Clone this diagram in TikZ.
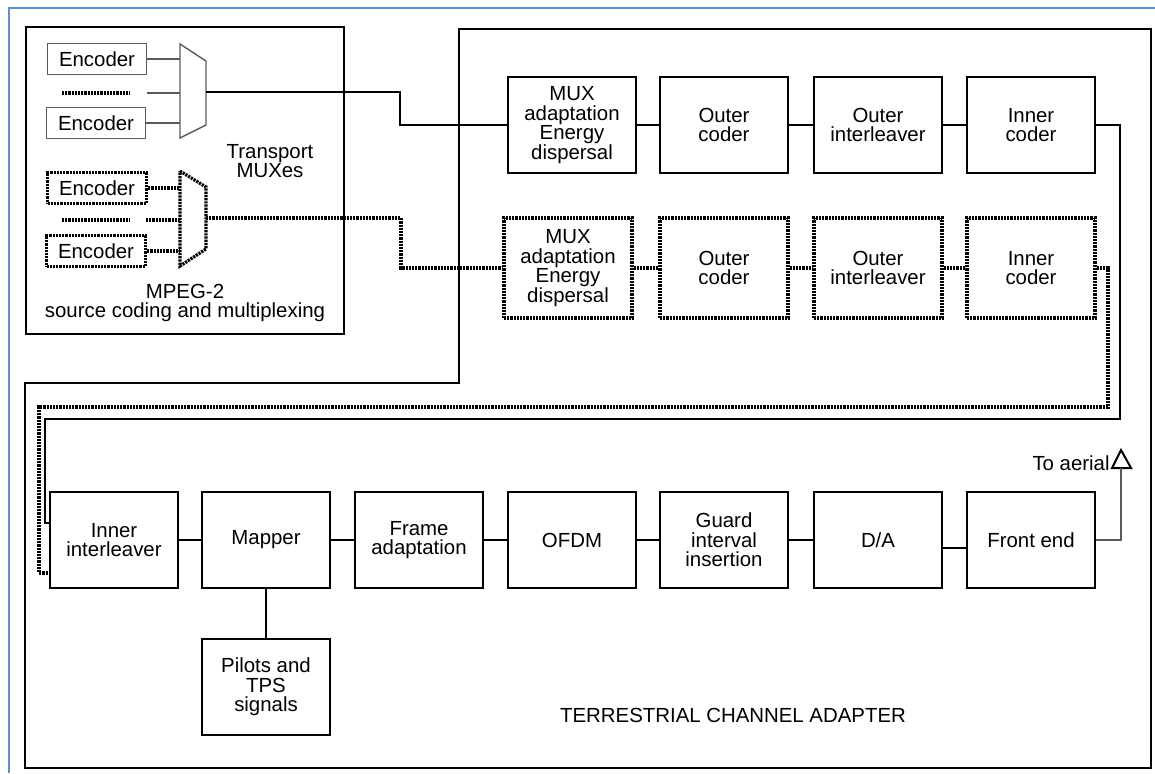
\documentclass[tikz,border=0pt]{standalone}
\usepackage{fontspec}
\setmainfont{Liberation Sans}
\usetikzlibrary{math}
\definecolor{myblue}{RGB}{95,145,210}
\definecolor{mygray}{RGB}{90,90,90}

\tikzset{
  txt/.style={font=\fontsize{10.2}{9.8}\selectfont, align=center, inner sep=0pt},
  blk/.style={txt, draw, line width=1pt, minimum width=64pt, minimum height=48pt},
  dotline/.style={line width=1.6pt, dash pattern=on 1.1pt off 0.5pt},
  dotblk/.style={blk, dotline, minimum height=50pt},
  enc/.style={txt, draw=mygray, line width=0.8pt, minimum width=49.5pt, minimum height=15.5pt},
  wire/.style={line width=1pt},
  thin/.style={draw=mygray, line width=0.7pt},
}

\begin{document}
\begin{tikzpicture}[x=0.5pt,y=-0.5pt]
\tikzmath{
\ya=125; \yb=268; \yc=540;
\xa=572; \xb=724; \xc=878; \xd=1031;
}
\useasboundingbox (0,0) rectangle (1155,773);
\draw[myblue, line width=1pt] (9,773) -- (9,8) -- (1155,8);
\draw[line width=1pt] (26,27) rectangle (344,334);
\draw[line width=1pt] (459,29) -- (1151,29) -- (1151,768) -- (25,768) -- (25,383) -- (459,383) -- cycle;

\node[enc] (E1) at (97,59) {Encoder};
\node[enc] (E2) at (96,123) {Encoder};
\node[enc, draw=black, dotline] (E3) at (97,188) {Encoder};
\node[enc, draw=black, dotline] (E4) at (96,251) {Encoder};
\draw[dotline] (62,93) -- (130,93);
\draw[dotline] (62,220) -- (130,220);

\draw[thin] (180,44) -- (206,61) -- (206,125) -- (180,138) -- cycle;
\draw[dotline] (180,171) -- (206,187) -- (206,249) -- (180,266) -- cycle;
\coordinate (M1) at (180,93);
\coordinate (M1o) at (206,92);
\coordinate (S1) at (147,93);
\coordinate (M2) at (180,220);
\coordinate (M2o) at (206,218);
\coordinate (S2) at (146,220);
\draw[thin] (E1.east) -- (E1.east -| M1);
\draw[thin] (S1) -- (M1);
\draw[thin] (E2.east) -- (E2.east -| M1);
\draw[dotline] (E3.east) -- (E3.east -| M2);
\draw[dotline] (S2) -- (M2);
\draw[dotline] (E4.east) -- (E4.east -| M2);

\node[txt] (TM) at (270,161) {Transport\\MUXes};
\node[txt] (SRC) at (185,303) {MPEG-2\\source coding and multiplexing};

\node[blk] (MA1) at (\xa,\ya) {MUX\\adaptation\\Energy\\dispersal};
\node[blk] (OC1) at (\xb,\ya) {Outer\\coder};
\node[blk] (OI1) at (\xc,\ya) {Outer\\interleaver};
\node[blk] (IC1) at (\xd,\ya) {Inner\\coder};

\node[dotblk] (MA2) at (568,\yb) {MUX\\adaptation\\Energy\\dispersal};
\node[dotblk] (OC2) at (\xb,\yb) {Outer\\coder};
\node[dotblk] (OI2) at (\xc,\yb) {Outer\\interleaver};
\node[dotblk] (IC2) at (\xd,\yb) {Inner\\coder};

\node[blk] (II) at (114,\yc) {Inner\\interleaver};
\node[blk] (MAP) at (266,\yc) {Mapper};
\node[blk] (FA) at (419,\yc) {Frame\\adaptation};
\node[blk] (OF) at (\xa,\yc) {OFDM};
\node[blk] (GI) at (\xb,\yc) {Guard\\interval\\insertion};
\node[blk] (DA) at (\xc,\yc) {D/A};
\node[blk] (FE) at (\xd,\yc) {Front end};
\node[blk] (PT) at (266,687) {Pilots and\\TPS\\signals};

\coordinate (X1) at (400,100);
\coordinate (X2) at (401,240);
\draw[wire, line width=0.7pt] (M1o) -| (X1) |- (MA1.west);
\draw[dotline] (M2o) -| (X2) |- (MA2.west);

\draw[wire] (MA1) -- (OC1) -- (OI1) -- (IC1);
\draw[dotline] (MA2) -- (OC2) -- (OI2) -- (IC2);
\draw[wire] (II) -- (MAP) -- (FA) -- (OF) -- (GI) -- (DA);
\draw[wire] ([yshift=-4pt]DA.east) -- ([yshift=-4pt]FE.west);
\draw[wire] (MAP) -- (PT);

\coordinate (R1) at (1120,419);
\coordinate (L1) at (45,523);
\coordinate (R2) at (1108,407);
\coordinate (L2) at (39,573);
\draw[wire] (IC1.east) -| (R1) -| (L1) -- (L1 -| II.west);
\draw[dotline] (IC2.east) -| (R2) -| (L2) -- (L2 -| II.west);

\coordinate (AE) at (1121,468);
\draw[line width=1pt] (1112,468) -- (1121,450) -- (1131,468) -- cycle;
\draw[thin] (FE.east) -| (AE);
\node[txt, anchor=base east] (TA) at (1110,470) {To aerial};

\node[txt] (TCA) at (733,715) {TERRESTRIAL CHANNEL ADAPTER};
\end{tikzpicture}
\end{document}
